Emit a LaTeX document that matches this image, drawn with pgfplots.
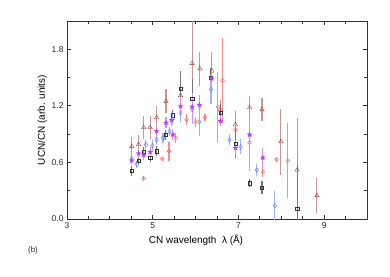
\documentclass[border=0pt]{standalone}
\usepackage{pgfplots}
\pgfplotsset{compat=1.18}
\usepackage{fontspec}
\setmainfont{Liberation Sans}
\definecolor{tri}{HTML}{A83A3A}
\definecolor{trib}{HTML}{C89494}
\definecolor{sq}{HTML}{333333}
\definecolor{sqb}{HTML}{777777}
\definecolor{cir}{HTML}{FF5A5A}
\definecolor{cirb}{HTML}{FF8C8C}
\definecolor{dia}{HTML}{5A78FF}
\definecolor{diab}{HTML}{A0B0FF}
\definecolor{sta}{HTML}{C03CF0}
\definecolor{stab}{HTML}{D890F0}
\pgfdeclareplotmark{fstar}{%
  \pgfpathmoveto{\pgfpointpolar{90}{\pgfplotmarksize}}%
  \pgfpathlineto{\pgfpointpolar{126}{0.42\pgfplotmarksize}}%
  \pgfpathlineto{\pgfpointpolar{162}{\pgfplotmarksize}}%
  \pgfpathlineto{\pgfpointpolar{198}{0.42\pgfplotmarksize}}%
  \pgfpathlineto{\pgfpointpolar{234}{\pgfplotmarksize}}%
  \pgfpathlineto{\pgfpointpolar{270}{0.42\pgfplotmarksize}}%
  \pgfpathlineto{\pgfpointpolar{306}{\pgfplotmarksize}}%
  \pgfpathlineto{\pgfpointpolar{342}{0.42\pgfplotmarksize}}%
  \pgfpathlineto{\pgfpointpolar{18}{\pgfplotmarksize}}%
  \pgfpathlineto{\pgfpointpolar{54}{0.42\pgfplotmarksize}}%
  \pgfpathclose
  \pgfusepathqfillstroke}
\begin{document}
\begin{tikzpicture}
\begin{axis}[
  scale only axis, width=300bp, height=198bp,
  at={(0,0)}, anchor=south west,
  xmin=3, xmax=10, ymin=0, ymax=2.1,
  xtick={3,5,7,9}, minor xtick={3.5,4,4.5,5.5,6,6.5,7.5,8,8.5,9.5},
  ytick={0,0.6,1.2,1.8}, minor ytick={0.3,0.9,1.5},
  yticklabel style={/pgf/number format/.cd, fixed, fixed zerofill, precision=1},
  /pgf/number format/assume math mode=true,
  tick label style={font=\fontsize{8.5}{10}\selectfont, text=black!85},
  tick style={black!80, line width=0.8pt},
  major tick length=4bp, minor tick length=3bp,
  axis line style={black!80, line width=1pt},
  xlabel={CN wavelength\ \ λ (Å)},
  xlabel style={font=\fontsize{10}{12}\selectfont, at={(axis description cs:0.43,0)}, anchor=north, yshift=-12bp},
  ylabel={UCN/CN (arb. units)},
  ylabel style={font=\fontsize{10}{12}\selectfont, yshift=-2bp},
  clip=true,
  error bars/error mark=none,
]
% circles
\addplot[only marks, mark=o, mark size=1.9pt, draw=cir, fill=white,
  error bars/.cd, y dir=both, y explicit, error bar style={line width=1.1pt, cirb}]
 table[x=x, y=y, y error=e] {
x y e
4.79 0.43 0.03
5.22 0.64 0.02
5.38 0.72 0.10
5.54 0.86 0.05
5.79 1.055 0.06
6.00 1.03 0.05
6.22 1.076 0.04
6.52 1.19 0.37
6.63 1.47 0.45
6.93 0.95 0.20
7.26 0.81 0.30
7.57 0.50 0.05
7.89 0.63 0.03
8.15 0.62 0.40
};
% triangles
\addplot[only marks, mark=triangle, mark size=2.5pt, draw=tri, fill=white,
  error bars/.cd, y dir=both, y explicit, error bar style={line width=1.1pt, trib}]
 table[x=x, y=y, y error=e] {
x y e
4.51 0.77 0.10
4.67 0.79 0.10
4.79 0.97 0.12
4.94 0.97 0.12
5.09 1.076 0.12
5.31 1.25 0.13
5.65 1.31 0.15
5.92 1.65 0.50
6.10 1.595 0.18
6.38 1.57 0.20
6.58 1.16 0.10
6.93 1.00 0.15
7.26 1.18 0.12
7.55 1.16 0.12
7.99 0.82 0.35
8.37 0.52 0.55
8.83 0.25 0.19
};
% squares
\addplot[only marks, mark=square, mark size=1.6pt, draw=sq, fill=white,
  error bars/.cd, y dir=both, y explicit, error bar style={line width=1.1pt, sqb}]
 table[x=x, y=y, y error=e] {
x y e
4.51 0.51 0.05
4.67 0.62 0.04
4.79 0.71 0.05
4.94 0.65 0.05
5.09 0.72 0.05
5.30 0.89 0.05
5.46 1.10 0.06
5.65 1.38 0.19
5.92 1.28 0.20
6.36 1.50 0.10
6.58 1.125 0.10
6.93 0.80 0.15
7.26 0.38 0.04
7.55 0.33 0.07
8.37 0.11 0.46
};
% diamonds
\addplot[only marks, mark=diamond, mark size=2.3pt, draw=dia, fill=white,
  error bars/.cd, y dir=both, y explicit, error bar style={line width=1.1pt, diab}]
 table[x=x, y=y, y error=e] {
x y e
4.51 0.64 0.04
4.63 0.58 0.04
4.84 0.79 0.05
4.99 0.78 0.06
5.09 0.84 0.06
5.24 0.86 0.05
5.39 0.93 0.05
5.47 1.06 0.06
5.65 1.125 0.10
5.92 1.16 0.15
6.09 1.03 0.15
6.36 1.375 0.15
6.79 0.84 0.06
7.05 0.765 0.08
7.43 0.52 0.06
7.85 0.14 0.16
};
% stars
\addplot[only marks, mark=fstar, mark size=2.5pt, draw=sta, fill=sta, line width=0.3pt,
  error bars/.cd, y dir=both, y explicit, error bar style={line width=1.1pt, stab}]
 table[x=x, y=y, y error=e] {
x y e
4.51 0.62 0.04
4.67 0.695 0.05
4.79 0.68 0.05
4.94 0.71 0.05
5.09 0.93 0.06
5.31 1.02 0.06
5.44 1.05 0.06
5.47 0.895 0.06
5.65 1.195 0.10
5.92 1.19 0.15
6.09 1.21 0.10
6.38 1.49 0.10
6.58 1.04 0.05
6.93 0.755 0.08
7.26 0.895 0.10
7.57 0.65 0.10
};
\end{axis}
\node[font=\fontsize{8}{9}\selectfont, text=black!85] at (-34bp,-31bp) {(b)};
\path[use as bounding box] (-67bp,-58bp) rectangle (323bp,219bp);
\end{tikzpicture}
\end{document}
